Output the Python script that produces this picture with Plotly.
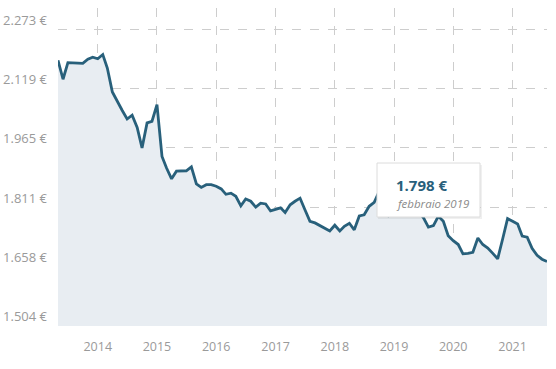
import pandas as pd
import plotly.graph_objects as go

# ---- data ----
start_month = "2013-05-01"
prices = [
    2.192, 2.143, 2.186, 2.186, 2.185, 2.184, 2.195, 2.200, 2.196, 2.207,
    2.172, 2.110, 2.085, 2.062, 2.040, 2.050, 2.018, 1.965, 2.030, 2.034,
    2.077, 1.943, 1.913, 1.885, 1.905, 1.906, 1.906, 1.916, 1.872, 1.863,
    1.870, 1.870, 1.866, 1.859, 1.845, 1.848, 1.840, 1.815, 1.833, 1.827,
    1.812, 1.822, 1.820, 1.802, 1.807, 1.810, 1.798, 1.818, 1.827, 1.835,
    1.805, 1.775, 1.771, 1.764, 1.757, 1.750, 1.765, 1.750, 1.762, 1.770,
    1.753, 1.789, 1.792, 1.814, 1.824, 1.852, 1.845, 1.790, 1.795, 1.798,
    1.805, 1.808, 1.805, 1.800, 1.785, 1.760, 1.764, 1.788, 1.775, 1.738,
    1.725, 1.715, 1.691, 1.692, 1.695, 1.732, 1.715, 1.706, 1.692, 1.678,
    1.730, 1.782, 1.775, 1.768, 1.737, 1.734, 1.705, 1.687, 1.677, 1.671,
]
months = pd.date_range(start_month, periods=len(prices), freq="MS")

y_tickvals = [1.504, 1.658, 1.811, 1.965, 2.119, 2.273]
y_ticktext = ["1.504 €", "1.658 €", "1.811 €", "1.965 €", "2.119 €", "2.273 €"]
x_tickvals = ["2014-01-01", "2015-01-01", "2016-01-01", "2017-01-01",
              "2018-01-01", "2019-01-01", "2020-01-01", "2021-01-01"]
x_ticktext = ["2014", "2015", "2016", "2017", "2018", "2019", "2020", "2021"]

tooltip_value = "1.798 €"
tooltip_label = "febbraio 2019"

LINE = "#28607b"
FILL = "#e8edf2"
GRID = "#cdcdcd"
TICK = "#9a9a9a"
FONT = "Open Sans"

fig = go.Figure()
fig.add_trace(go.Scatter(
    x=months, y=prices, mode="lines",
    line=dict(color=LINE, width=2.8),
    fill="tozeroy", fillcolor=FILL,
    hoverinfo="skip",
))

fig.update_layout(
    width=556, height=369,
    margin=dict(l=58, r=9, t=8, b=43),
    paper_bgcolor="white", plot_bgcolor="white",
    showlegend=False,
    hovermode=False,
    font=dict(family=FONT, color=TICK),
    xaxis=dict(
        range=[months[0], months[-1]],
        tickvals=x_tickvals, ticktext=x_ticktext,
        showgrid=True, gridcolor=GRID, griddash="dash", gridwidth=1,
        zeroline=False, showline=False, ticks="",
        tickfont=dict(size=12.5, color=TICK, family=FONT),
        ticklabelstandoff=11, automargin=False,
    ),
    yaxis=dict(
        range=[1.504, 2.3275],
        tickvals=y_tickvals, ticktext=y_ticktext,
        showgrid=True, gridcolor=GRID, griddash="dash", gridwidth=1,
        zeroline=False, showline=False, ticks="",
        tickfont=dict(size=13, color=TICK, family=FONT),
        ticklabelposition="outside top",
        ticklabelstandoff=10, automargin=False,
    ),
)

# tooltip box
def px_x(p):
    return (p - 58) / 489.0

def px_y(p):
    return (326 - p) / 318.0

fig.add_shape(type="rect", xref="paper", yref="paper",
              x0=px_x(378), x1=px_x(482), y0=px_y(219), y1=px_y(165),
              line=dict(width=0), fillcolor="rgba(0,0,0,0.06)", layer="above")
fig.add_shape(type="rect", xref="paper", yref="paper",
              x0=px_x(377), x1=px_x(480), y0=px_y(217), y1=px_y(163),
              line=dict(width=1, color="#dcdcdc"), fillcolor="white", layer="above")
fig.add_annotation(xref="paper", yref="paper", x=px_x(394), y=px_y(185),
                   text="<b>" + tooltip_value + "</b>", showarrow=False,
                   xanchor="left", yanchor="middle",
                   font=dict(size=15, color=LINE, family=FONT))
fig.add_annotation(xref="paper", yref="paper", x=px_x(394), y=px_y(203),
                   text="<i>" + tooltip_label + "</i>", showarrow=False,
                   xanchor="left", yanchor="middle",
                   font=dict(size=11.5, color="#8a8a8a", family=FONT))

fig.write_html("out.html", config={"displayModeBar": False},
               post_script="document.body.style.margin='0';")
